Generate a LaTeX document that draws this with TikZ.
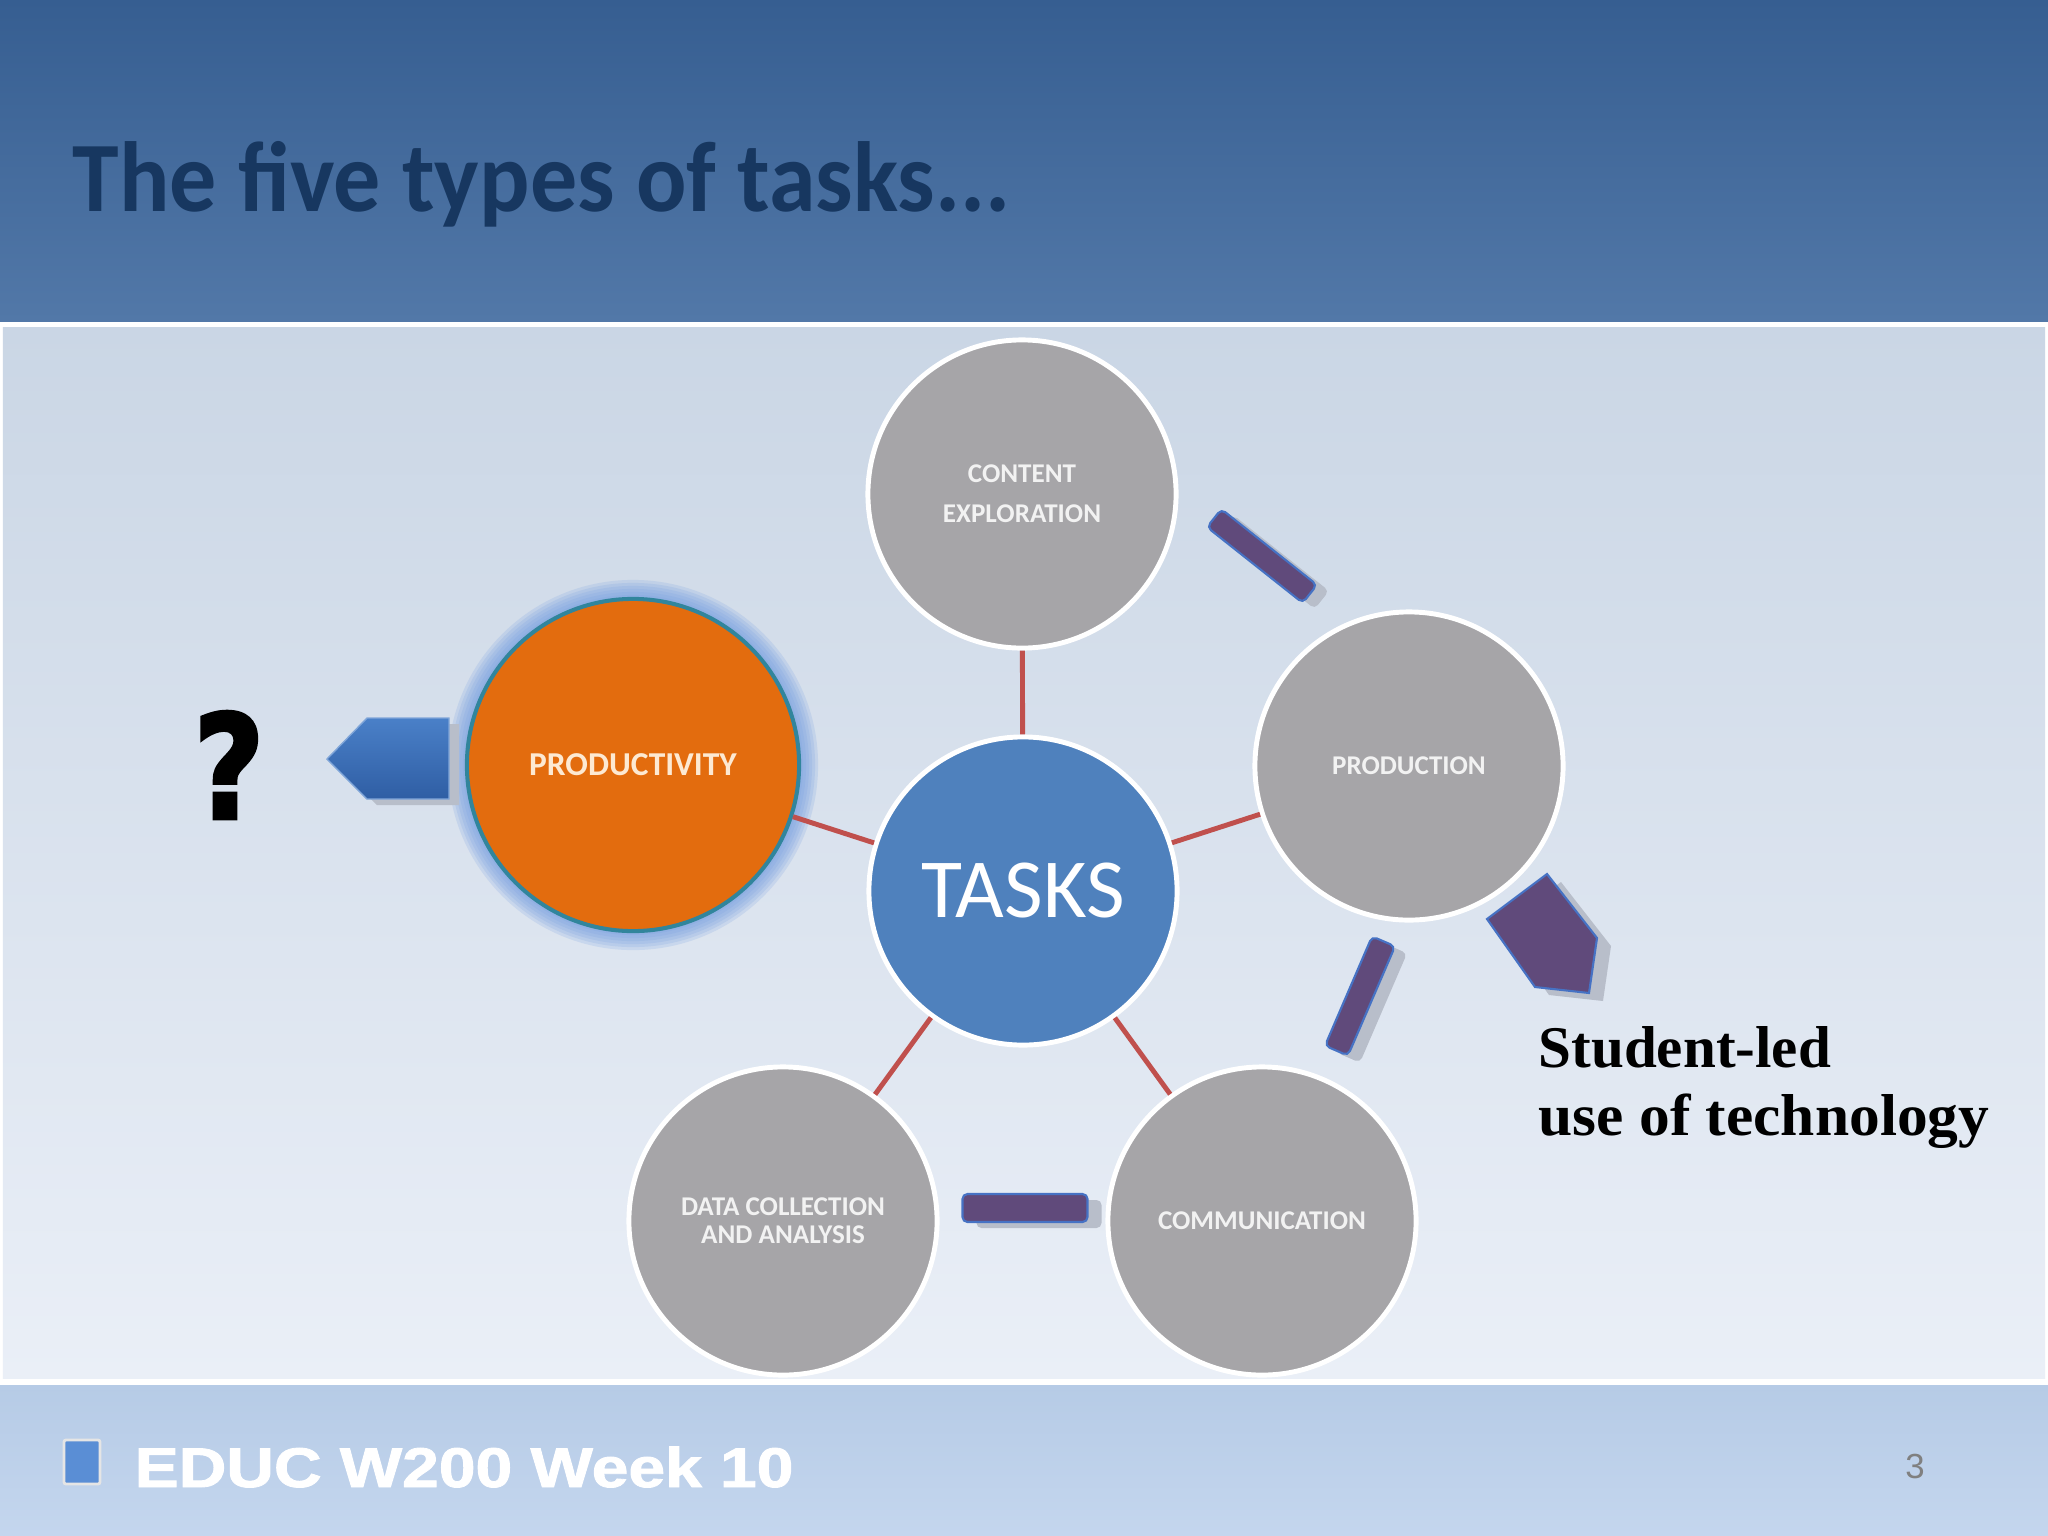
\documentclass[tikz,border=0pt]{standalone}
\usepackage{fontspec}
\usepackage{tikz}
\usetikzlibrary{positioning,calc}
\newfontfamily\carlito{Carlito}
\newfontfamily\arialish[BoldFeatures={FakeBold=1.5}]{Liberation Sans}
\newfontfamily\timesish{Liberation Serif}
\newfontfamily\heavyq[BoldFeatures={FakeBold=2.5}]{DejaVu Sans}
\definecolor{hdtop}{RGB}{54,94,145}
\definecolor{hdbot}{RGB}{82,120,168}
\definecolor{bgtop}{RGB}{202,214,229}
\definecolor{bgbot}{RGB}{234,239,247}
\definecolor{fttop}{RGB}{182,203,230}
\definecolor{ftbot}{RGB}{196,214,238}
\definecolor{navy}{RGB}{23,55,96}
\definecolor{taskgray}{RGB}{166,165,168}
\definecolor{taskblue}{RGB}{79,129,189}
\definecolor{prodorange}{RGB}{227,108,14}
\definecolor{prodteal}{RGB}{49,133,156}
\definecolor{glowblue}{RGB}{120,160,225}
\definecolor{linkred}{RGB}{192,80,77}
\definecolor{barpurple}{RGB}{96,74,123}
\definecolor{baredge}{RGB}{70,114,196}
\definecolor{shgray}{RGB}{184,190,202}
\definecolor{arrowtop}{RGB}{74,128,200}
\definecolor{arrowbot}{RGB}{47,94,164}
\definecolor{footsq}{RGB}{90,142,213}
\newcommand{\lbl}[1]{{\carlito\bfseries #1}}
\tikzset{
  task/.style={circle, draw=white, line width=1.4pt, fill=taskgray, minimum size=3.08cm,
    inner sep=0pt, align=center, text=white!95!black, font=\fontsize{7.7}{7.9}\selectfont},
  hub/.style={task, fill=taskblue, text=white, font=\carlito\fontsize{23.9}{26}\selectfont},
  focus/.style={task, draw=prodteal, line width=1.15pt, fill=prodorange, minimum size=3.32cm,
    text={rgb,255:red,253;green,233;blue,210}},
  link/.style={linkred, line width=1.4pt},
  purplebar/.style={rectangle, draw=baredge, line width=0.6pt, fill=barpurple,
    rounded corners=0.05cm, inner sep=0pt},
  barshadow/.style={rectangle, fill=shgray, rounded corners=0.05cm, inner sep=0pt},
}
\begin{document}
\begin{tikzpicture}[x=0.01cm,y=-0.01cm]
  \useasboundingbox (0,0) rectangle (2048,1536);
  % slide background
  \fill[white] (0,0) rectangle (2048,1536);
  \shade[top color=hdtop,bottom color=hdbot] (0,0) rectangle (2048,321);
  \shade[top color=bgtop,bottom color=bgbot] (3,327) rectangle (2045,1378);
  \shade[top color=fttop,bottom color=ftbot] (0,1385) rectangle (2048,1536);
  \node[anchor=base west, text=navy, inner sep=0pt,
    font=\carlito\bfseries\fontsize{27}{30}\selectfont] (title) at (72,211)
    {\scalebox{0.99}[1.05]{The five types of tasks...}};

  % glow round the chosen task
  \foreach \r in {1.70,1.73,...,1.85}
    \fill[glowblue,opacity=0.2] (633,765) circle[radius=\r cm];

  \node[task] (content) at (1022,494) {\lbl{CONTENT}\\[3.5pt]\lbl{EXPLORATION}};
  \node[task] (production) at (1409,766) {\lbl{PRODUCTION}};
  \node[task] (communication) at (1262,1221) {\lbl{COMMUNICATION}};
  \node[task] (datacoll) at (783,1221) {\lbl{DATA COLLECTION}\\\lbl{AND ANALYSIS}};
  \node[hub] (tasks) at (1023,891) {TASKS};
  \node[focus] (productivity) at (633,765) {\fontsize{9.5}{10}\selectfont\lbl{PRODUCTIVITY}};

  \path[link] (tasks) edge (content) edge (production) edge (communication)
    edge (datacoll) edge (productivity);

  % cycle bars
  \node[barshadow, minimum width=1.22cm, minimum height=0.23cm, rotate=-38.4] (bar1s) at (1274,562) {};
  \node[purplebar, minimum width=1.22cm, minimum height=0.23cm, rotate=-38.4] (bar1) at (1262,556) {};
  \node[barshadow, minimum width=1.19cm, minimum height=0.25cm, rotate=66.7] (bar2s) at (1372,1003) {};
  \node[purplebar, minimum width=1.19cm, minimum height=0.25cm, rotate=66.7] (bar2) at (1360,996) {};
  \node[barshadow, minimum width=1.25cm, minimum height=0.28cm] (bar3s) at (1039,1214) {};
  \node[purplebar, minimum width=1.25cm, minimum height=0.28cm] (bar3) at (1025,1208) {};
  \fill[shgray, shift={(14,8)}] (1487,919) -- (1547,874) -- (1597,938) -- (1589,993) -- (1535,987) -- cycle;
  \draw[baredge, fill=barpurple, line width=0.6pt] (1487,919) -- (1547,874) -- (1597,938)
    -- (1589,993) -- (1535,987) -- cycle;

  % arrow to the question
  \fill[shgray, shift={(10,6)}] (327,759) -- (367,718) -- (449,718) -- (449,799) -- (367,799) -- cycle;
  \shadedraw[top color=arrowtop, bottom color=arrowbot, draw=arrowtop!70!white, line width=0.4pt]
    (327,759) -- (367,718) -- (449,718) -- (449,799) -- (367,799) -- cycle;
  \node[inner sep=0pt, font=\heavyq\bfseries\fontsize{41}{41}\selectfont] (question) at (229,765)
    {\scalebox{0.85}[1]{?}};

  \node[anchor=base west, inner sep=0pt, font=\timesish\bfseries\fontsize{16.8}{19}\selectfont]
    (studentled) at (1538,1067) {Student-led};
  \node[anchor=base west, inner sep=0pt, font=\timesish\bfseries\fontsize{16.8}{19}\selectfont]
    (usetech) at (1538,1135) {\scalebox{1.04}[1]{use of technology}};

  % footer
  \node[draw=white!80!gray, line width=0.8pt, fill=footsq, rounded corners=0.02cm,
    minimum width=0.36cm, minimum height=0.44cm, inner sep=0pt] (footmark) at (82,1462) {};
  \node[anchor=base west, inner sep=0pt, text=white, font=\arialish\bfseries\fontsize{15.9}{18}\selectfont]
    (course) at (134,1487) {\scalebox{1.18}[1]{EDUC W200 Week 10}};
  \node[anchor=base, inner sep=0pt, text=gray, font=\arialish\fontsize{9.9}{11}\selectfont]
    (pagenum) at (1915,1478) {3};
\end{tikzpicture}
\end{document}
